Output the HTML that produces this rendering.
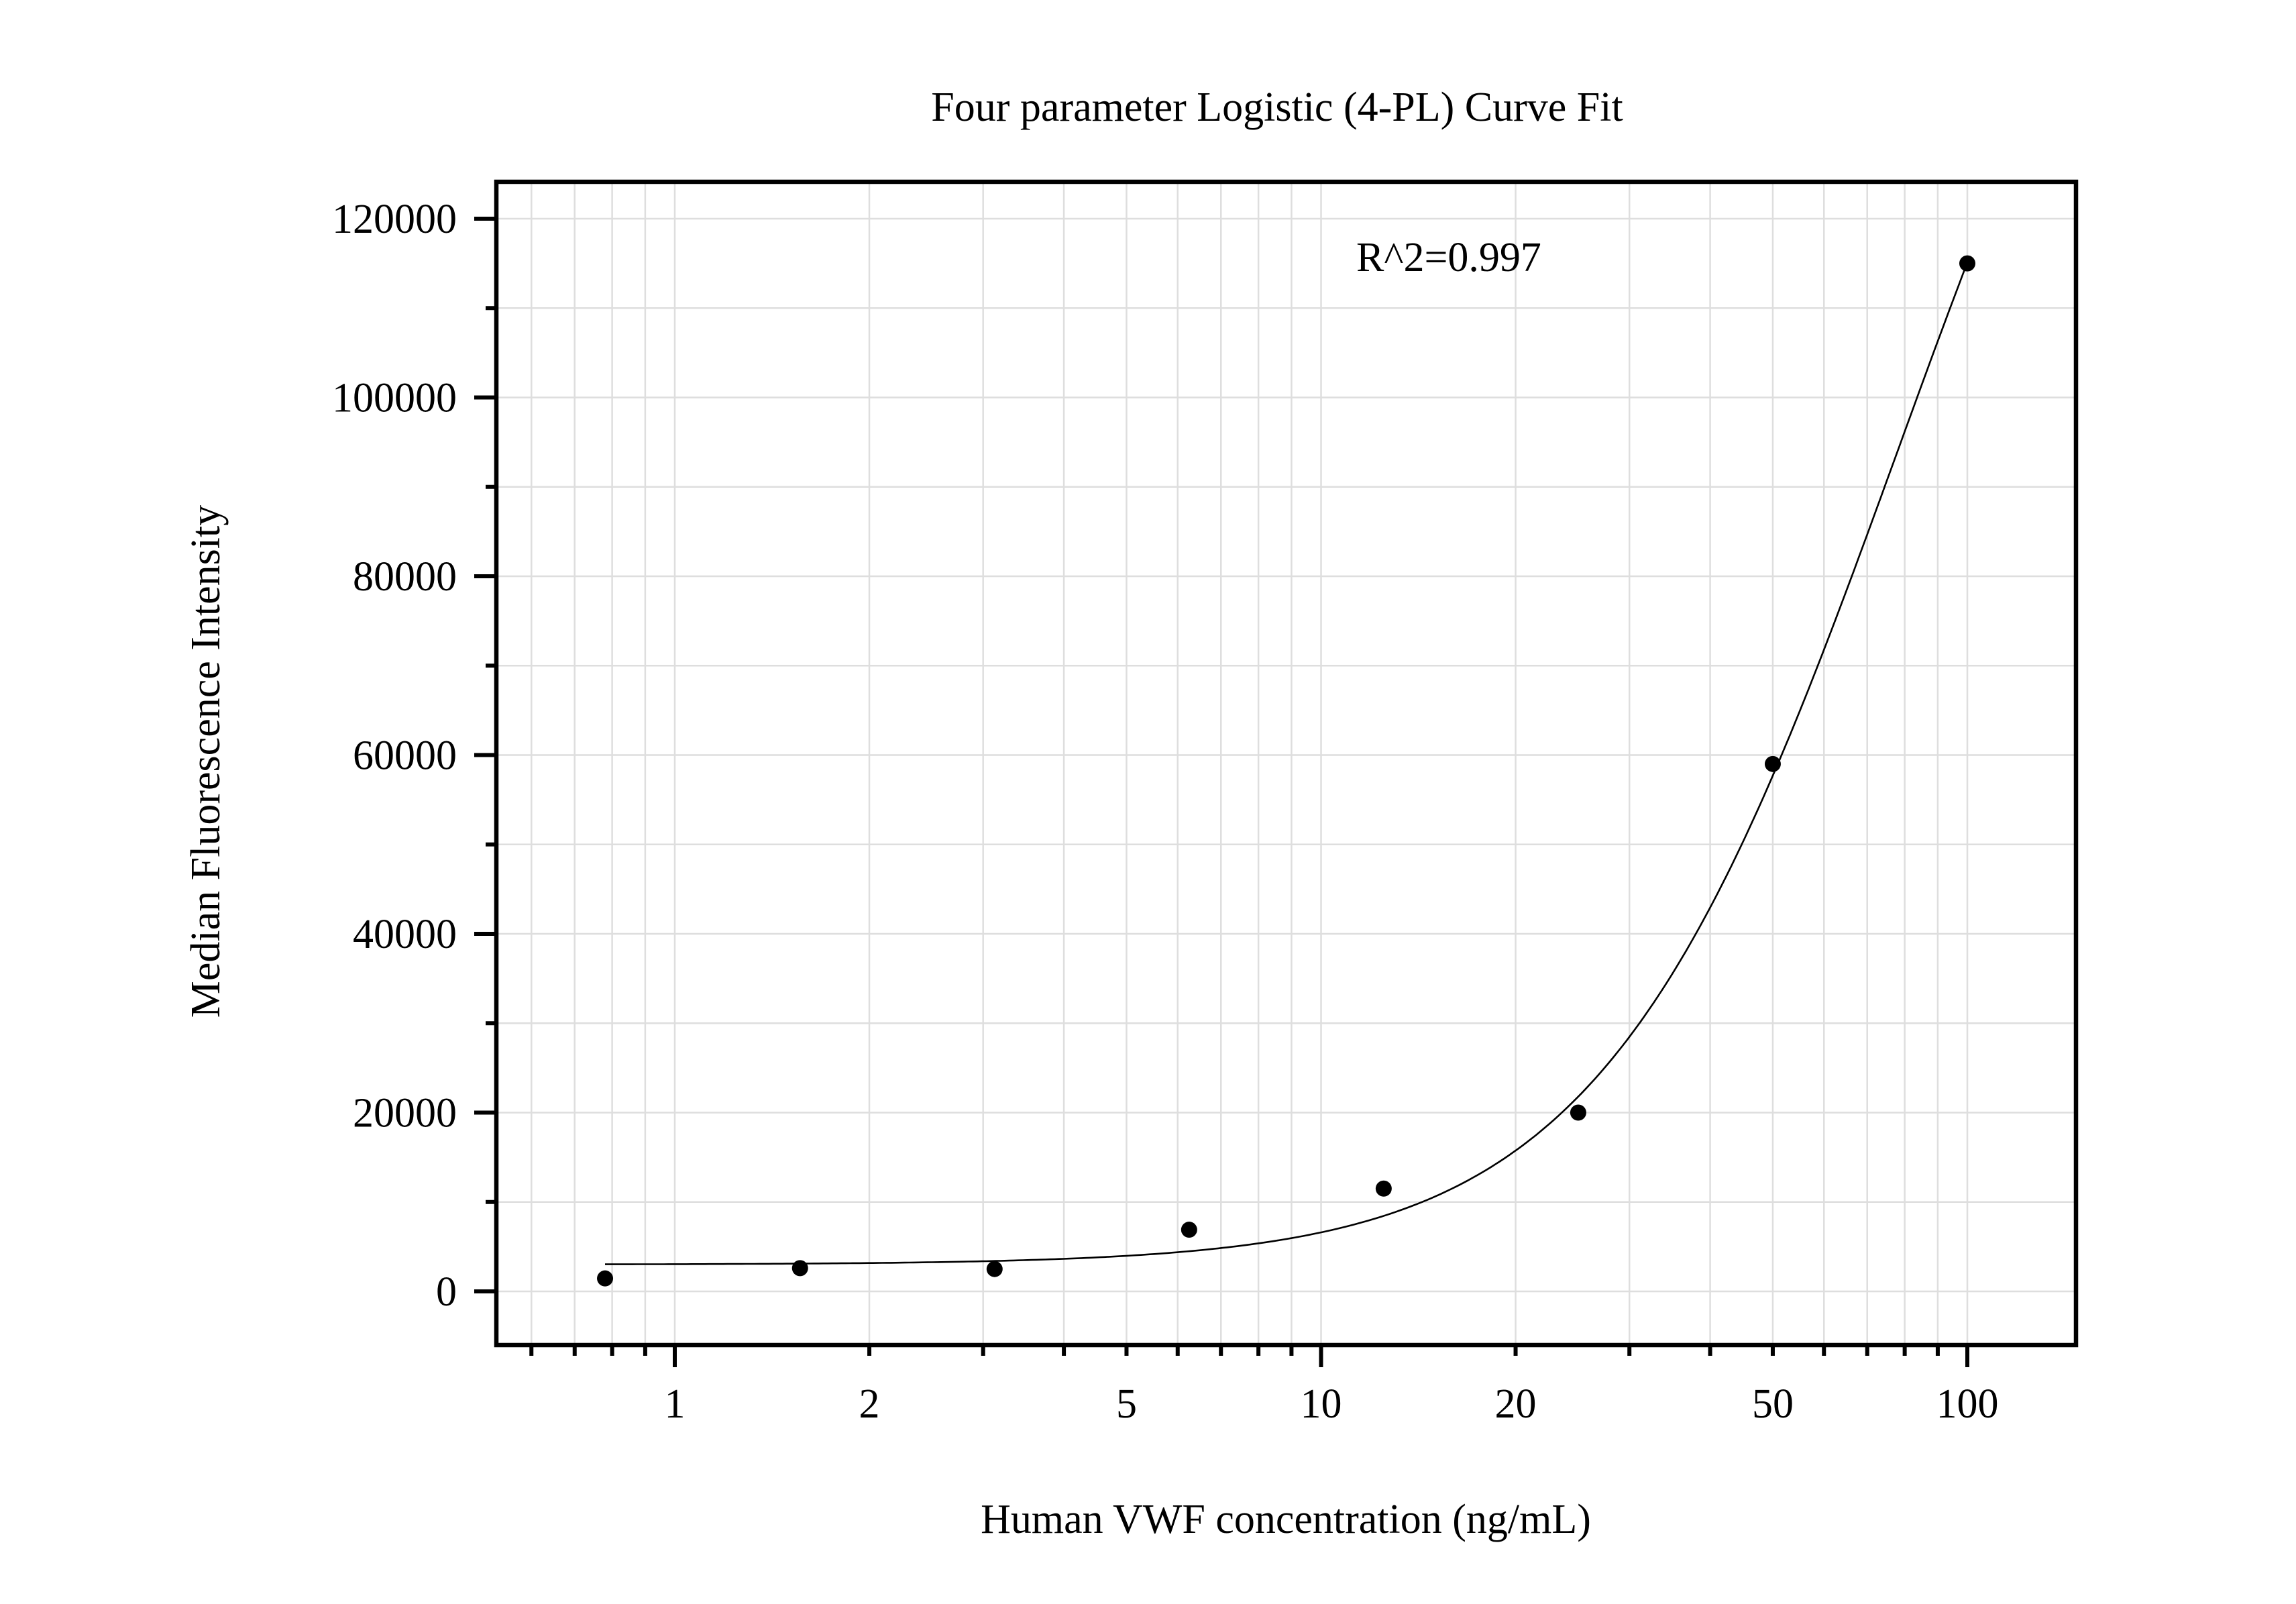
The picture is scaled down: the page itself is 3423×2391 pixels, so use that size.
<!DOCTYPE html>
<html><head><meta charset="utf-8"><style>
html,body{margin:0;padding:0;background:#fff;}
svg{display:block;font-family:"Liberation Serif",serif;}
</style></head><body>
<svg id="chart" width="3423" height="2391" viewBox="0 0 3423 2391" xmlns="http://www.w3.org/2000/svg">
<rect x="0" y="0" width="3423" height="2391" fill="#fff"/>
<g id="grid"></g>
<g id="curve-layer"></g>
<g id="points"></g>
<g id="axes"></g>
<text x="1904" y="180" font-size="62" text-anchor="middle">Four parameter Logistic (4-PL) Curve Fit</text>
<text x="2022" y="404" font-size="62">R^2=0.997</text>
<text x="1917" y="2285" font-size="62" text-anchor="middle">Human VWF concentration (ng/mL)</text>
<text x="327" y="1135" font-size="62" text-anchor="middle" transform="rotate(-90 327 1135)">Median Fluorescence Intensity</text>
</svg>
<script>
const concentrations = [0.78, 1.5625, 3.125, 6.25, 12.5, 25, 50, 100];
const intensities = [1450, 2600, 2500, 6900, 11500, 20000, 59000, 115000];
const fitParams = [3000, 1.9, 78, 185000]; // A (bottom), B (slope), C (EC50), D (top)
const yTickValues = [0, 20000, 40000, 60000, 80000, 100000, 120000];
const yTickLabels = ["0", "20000", "40000", "60000", "80000", "100000", "120000"];
const xTickValues = [1, 2, 5, 10, 20, 50, 100];
const xTickLabels = ["1", "2", "5", "10", "20", "50", "100"];

const NS = "http://www.w3.org/2000/svg";
const L = 740, R = 3095, T = 271, B = 2005;
const PX_PER_DEC = 963.5, X1 = 1006;
const Y0 = 1925, PX_PER_UNIT = 266.5 / 20000;
function xs(v) { return X1 + Math.log10(v) * PX_PER_DEC; }
function ys(v) { return Y0 - v * PX_PER_UNIT; }
function mk(tag, attrs, parent) {
  const e = document.createElementNS(NS, tag);
  for (const k in attrs) e.setAttribute(k, attrs[k]);
  parent.appendChild(e);
  return e;
}
const grid = document.getElementById('grid');
const axes = document.getElementById('axes');
const pts = document.getElementById('points');
const cl = document.getElementById('curve-layer');

// x grid + ticks
const xMin = Math.pow(10, (L - X1) / PX_PER_DEC), xMax = Math.pow(10, (R - X1) / PX_PER_DEC);
for (let d = -1; d <= 2; d++) {
  for (let m = 1; m <= 9; m++) {
    const v = m * Math.pow(10, d);
    if (v < xMin || v > xMax) continue;
    const x = xs(v);
    const gl = mk('line', {x1: x, x2: x, y1: T, y2: B, stroke: '#dedede', 'stroke-width': 2.5}, grid);
    
    
    const len = m === 1 ? 33 : 16;
    const tk = mk('line', {x1: x, x2: x, y1: B, y2: B + len, stroke: '#000', 'stroke-width': 6}, axes);
    
    
  }
}
xTickValues.forEach((v, i) => {
  const t = mk('text', {x: xs(v), y: 2113, 'font-size': 62, 'text-anchor': 'middle'}, axes);
  t.textContent = xTickLabels[i];
  
  
});
// y grid + ticks
for (let v = -0; v <= 120000; v += 10000) {
  const y = ys(v);
  const gl = mk('line', {x1: L, x2: R, y1: y, y2: y, stroke: '#dedede', 'stroke-width': 2.5}, grid);
  
  
  const len = v % 20000 === 0 ? 33 : 16;
  const tk = mk('line', {x1: L - len, x2: L, y1: y, y2: y, stroke: '#000', 'stroke-width': 6}, axes);
  
  
}
yTickValues.forEach((v, i) => {
  const t = mk('text', {x: 681, y: ys(v) + 21, 'font-size': 62, 'text-anchor': 'end'}, axes);
  t.textContent = yTickLabels[i];
  
  
});
// frame
const fr = mk('rect', {x: L, y: T, width: R - L, height: B - T, fill: 'none', stroke: '#000', 'stroke-width': 6.5}, axes);



// 4PL curve
function fourPL(x) {
  const [A, Bs, C, D] = fitParams;
  return D + (A - D) / (1 + Math.pow(x / C, Bs));
}
let d = '';
const lo = Math.log10(concentrations[0]), hi = Math.log10(concentrations[concentrations.length - 1]);
for (let i = 0; i <= 300; i++) {
  const lx = lo + (hi - lo) * i / 300;
  const x = Math.pow(10, lx);
  d += (i ? 'L' : 'M') + xs(x).toFixed(1) + ',' + ys(fourPL(x)).toFixed(1);
}
const path = mk('path', {d: d, fill: 'none', stroke: '#000', 'stroke-width': 2.6}, cl);



concentrations.forEach((c, i) => {
  const p = mk('circle', {cx: xs(c), cy: ys(intensities[i]), r: 12, fill: '#000'}, pts);
  
  
});
</script>
</body></html>
